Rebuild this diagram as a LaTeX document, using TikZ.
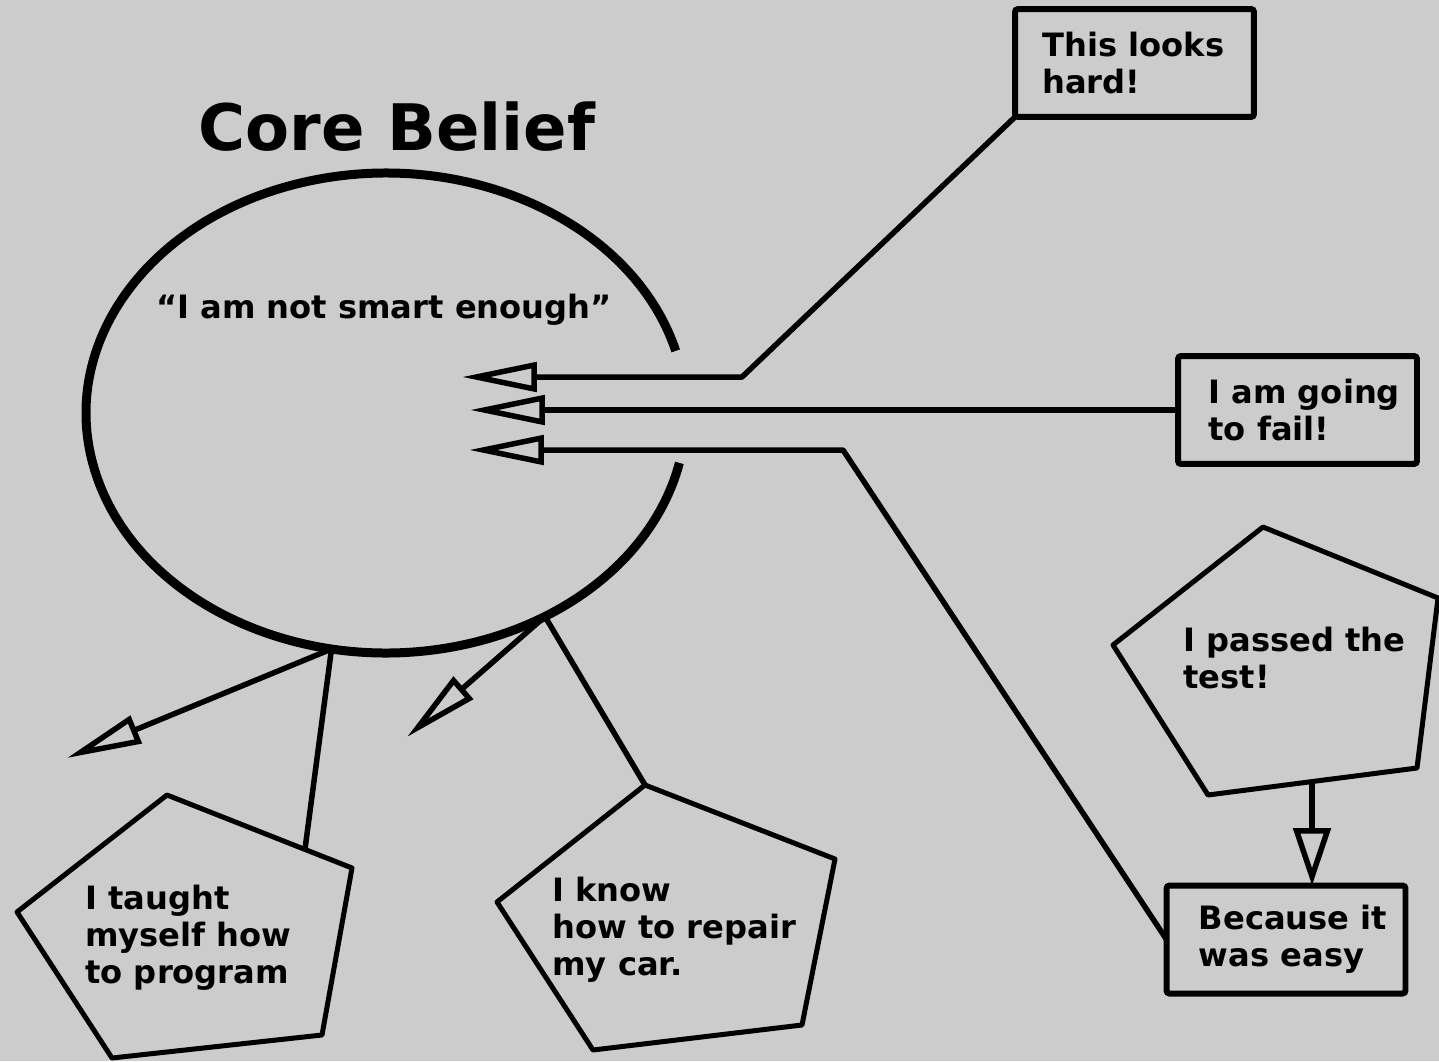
\documentclass[tikz,border=0pt]{standalone}
\usepackage{fontspec}
\setmainfont{DejaVu Sans}
\usetikzlibrary{arrows.meta, positioning, shapes.geometric}
\definecolor{paper}{HTML}{CCCCCC}
\tikzset{
  line/.style={line width=0.11cm, line join=round},
  into/.style={line, -{Triangle[open, length=1.5cm, width=0.58cm]}},
  drop/.style={line, -{Triangle[open, length=1.15cm, width=0.74cm]}},
  ring/.style={line width=0.18cm},
  note/.style={draw, line width=0.12cm, rounded corners=0.06cm,
    minimum width=4.78cm, minimum height=2.16cm, inner sep=0, outer sep=0},
  penta/.style={line width=0.1cm, line join=round},
  txt/.style={font=\fontsize{18.3}{21}\selectfont\bfseries, align=left, inner sep=0},
  title/.style={font=\fontsize{36.5}{40}\selectfont\bfseries, inner sep=0, anchor=base},
}

\begin{document}
\begin{tikzpicture}[x=0.02cm, y=-0.02cm]
  \fill[paper] (0,0) rectangle (1439,1061);
  \useasboundingbox (0,0) rectangle (1439,1061);

  % core belief
  \node[ellipse, minimum width=12cm, minimum height=9.6cm, inner sep=0, outer sep=0] (core) at (386,413) {};
  \draw[ring] ([shift={(15:6cm and 4.8cm)}]core.center)
    arc[start angle=15, end angle=348, x radius=6cm, y radius=4.8cm];
  \node[title] (head) at (397,150) {Core Belief};
  \node[txt, anchor=base] (belief) at (384,318) {“I am not smart enough”};

  % thoughts
  \node[note] (hard) at (1134.5,63) {};
  \node[note] (fail) at (1297.5,410) {};
  \node[note] (easy) at (1286,939.5) {};
  \node[txt, right=0.54cm of hard.west] (hardtxt) {This looks\\hard!};
  \node[txt, right=0.6cm of fail.west] (failtxt) {I am going\\to fail!};
  \node[txt, right=0.64cm of easy.west] (easytxt) {Because it\\was easy};

  % evidence
  \draw[penta] (167,795) -- (352,868) -- (322,1035) -- (112,1058) -- (17,912) -- cycle;
  \draw[penta] (645,785) coordinate (repairtop) -- (835,859) -- (802,1025) -- (593,1050) -- (497,902) -- cycle;
  \draw[penta] (1263,527) -- (1438,598) -- (1417,768) -- (1208,795) -- (1113,645) -- cycle;
  \node[txt, anchor=west] (taught) at (85,938) {I taught\\myself how\\to program};
  \node[txt, anchor=west] (repair) at (552,930) {I know\\how to repair\\my car.};
  \node[txt, anchor=west] (passed) at (1183,658) {I passed the\\test!};

  \coordinate (tipA) at (462,377);
  \coordinate (bendA) at (742,377);
  \coordinate (tipB) at (470,410);
  \coordinate (tipC) at (469,450);
  \coordinate (bendC) at (843,450);
  \coordinate (tipD) at (67,758);
  \coordinate (tipE) at (407,737);
  \coordinate (taughtin) at (305,849);
  \coordinate (passedout) at (1312,782);

  \draw[into] (hard.south west) -- (bendA) -- (tipA);
  \draw[into] (fail.west) -- (tipB);
  \draw[into] (easy.west) -- (bendC) -- (tipC);
  \draw[into] (core.-103.5) -- (tipD);
  \draw[into] (core.-52) -- (tipE);
  \draw[line] (core.-103.5) -- (taughtin);
  \draw[line] (core.-52) -- (repairtop);
  \draw[drop] (passedout) -- (passedout |- easy.north);
\end{tikzpicture}
\end{document}
